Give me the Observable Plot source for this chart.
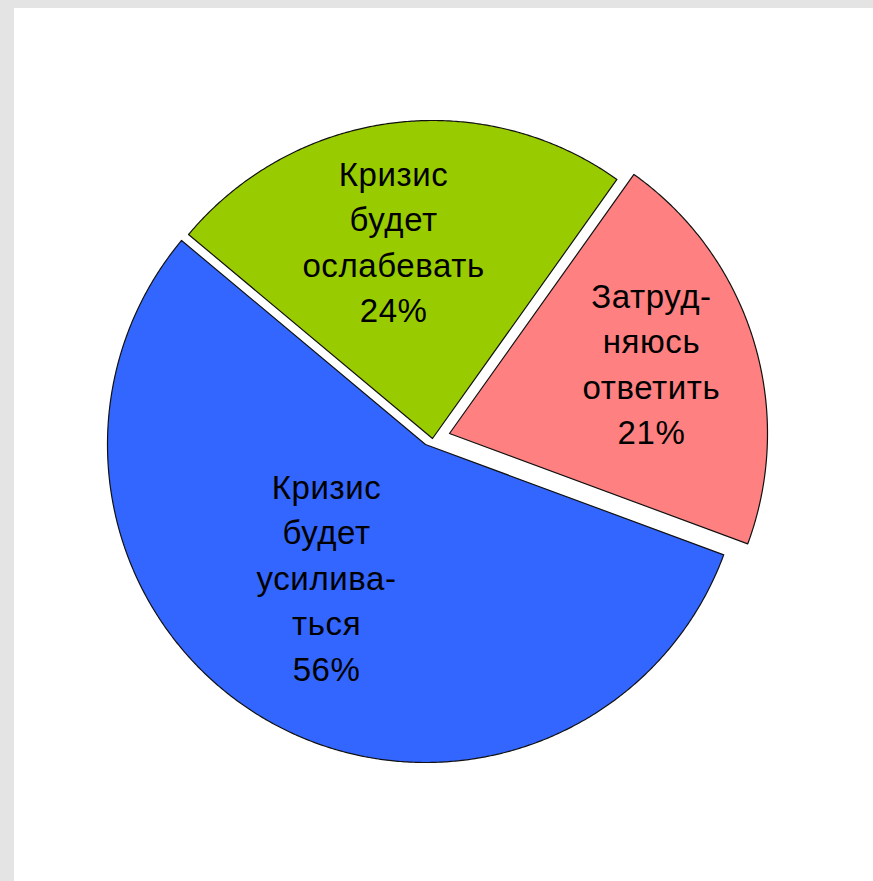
<!DOCTYPE html>
<html><head><meta charset="utf-8">
<script src="https://cdn.jsdelivr.net/npm/d3@7"></script>
<script src="https://cdn.jsdelivr.net/npm/@observablehq/plot@0.6"></script>
<style>
html,body{margin:0;padding:0;background:#e4e4e4;overflow:hidden;}
#chart{position:absolute;left:14px;top:8px;width:859px;height:873px;background:#fff;}
#chart svg{display:block;background:#fff;}
#chart text{letter-spacing:0.6px;}
</style></head><body><div id="chart"></div>
<script>
// ---- data ----
const categories = ["Кризис будет усиливаться", "Кризис будет ослабевать", "Затрудняюсь ответить"];
const values = [56, 24, 21];
const labels = ["Кризис\nбудет\nусилива-\nться\n56%", "Кризис\nбудет\nослабевать\n24%", "Затруд-\nняюсь\nответить\n21%"];
const colors = ["#3366ff", "#99cc00", "#ff8080"];

// ---- layout (styling, not data) ----
const W = 859, H = 873, R = 318, CX = 411, CY = 436;
const explodePx = [[0, 0], [7, 6], [24, 11]];      // slice offsets (px, y up)
const labelPos = [[0.528, 6], [0.623, -4], [0.669, -1.2]]; // radius fraction, angle delta (deg)
const deg = Math.PI / 180;

const pie = d3.pie().sort(null).value(d => d).startAngle(110.3 * deg).endAngle(110.3 * deg + 2 * Math.PI)(values);

const slices = pie.map((p, i) => {
  const ox = explodePx[i][0] / R, oy = explodePx[i][1] / R;
  const pts = [{x: ox, y: oy}];
  const n = Math.max(2, Math.ceil((p.endAngle - p.startAngle) / (0.4 * deg)));
  for (let k = 0; k <= n; k++) {
    const a = p.startAngle + (p.endAngle - p.startAngle) * k / n;
    pts.push({x: ox + Math.sin(a), y: oy + Math.cos(a)});
  }
  const mid = (p.startAngle + p.endAngle) / 2 + labelPos[i][1] * deg;
  const lr = labelPos[i][0];
  return {pts, label: {x: ox + lr * Math.sin(mid), y: oy + lr * Math.cos(mid), text: labels[i], cat: categories[i]}, color: colors[i]};
});

const marks = [];
slices.forEach(s => {
  marks.push(Plot.line(s.pts, {x: "x", y: "y", curve: "linear-closed", fill: s.color, stroke: "#111", strokeWidth: 1.2}));
});
slices.forEach(s => {
  marks.push(Plot.text([s.label], {x: "x", y: "y", text: "text", fontSize: 33, lineHeight: 1.38, dy: -5, fill: "#000", fontFamily: "Liberation Sans, Arial, sans-serif", textAnchor: "middle"}));
});

const chart = Plot.plot({
  width: W, height: H,
  margin: 0,
  x: {domain: [-CX / R, (W - CX) / R], axis: null},
  y: {domain: [(CY - H) / R, CY / R], axis: null},
  style: {background: "#fff"},
  marks
});
document.getElementById("chart").appendChild(chart);
</script>
</body></html>
